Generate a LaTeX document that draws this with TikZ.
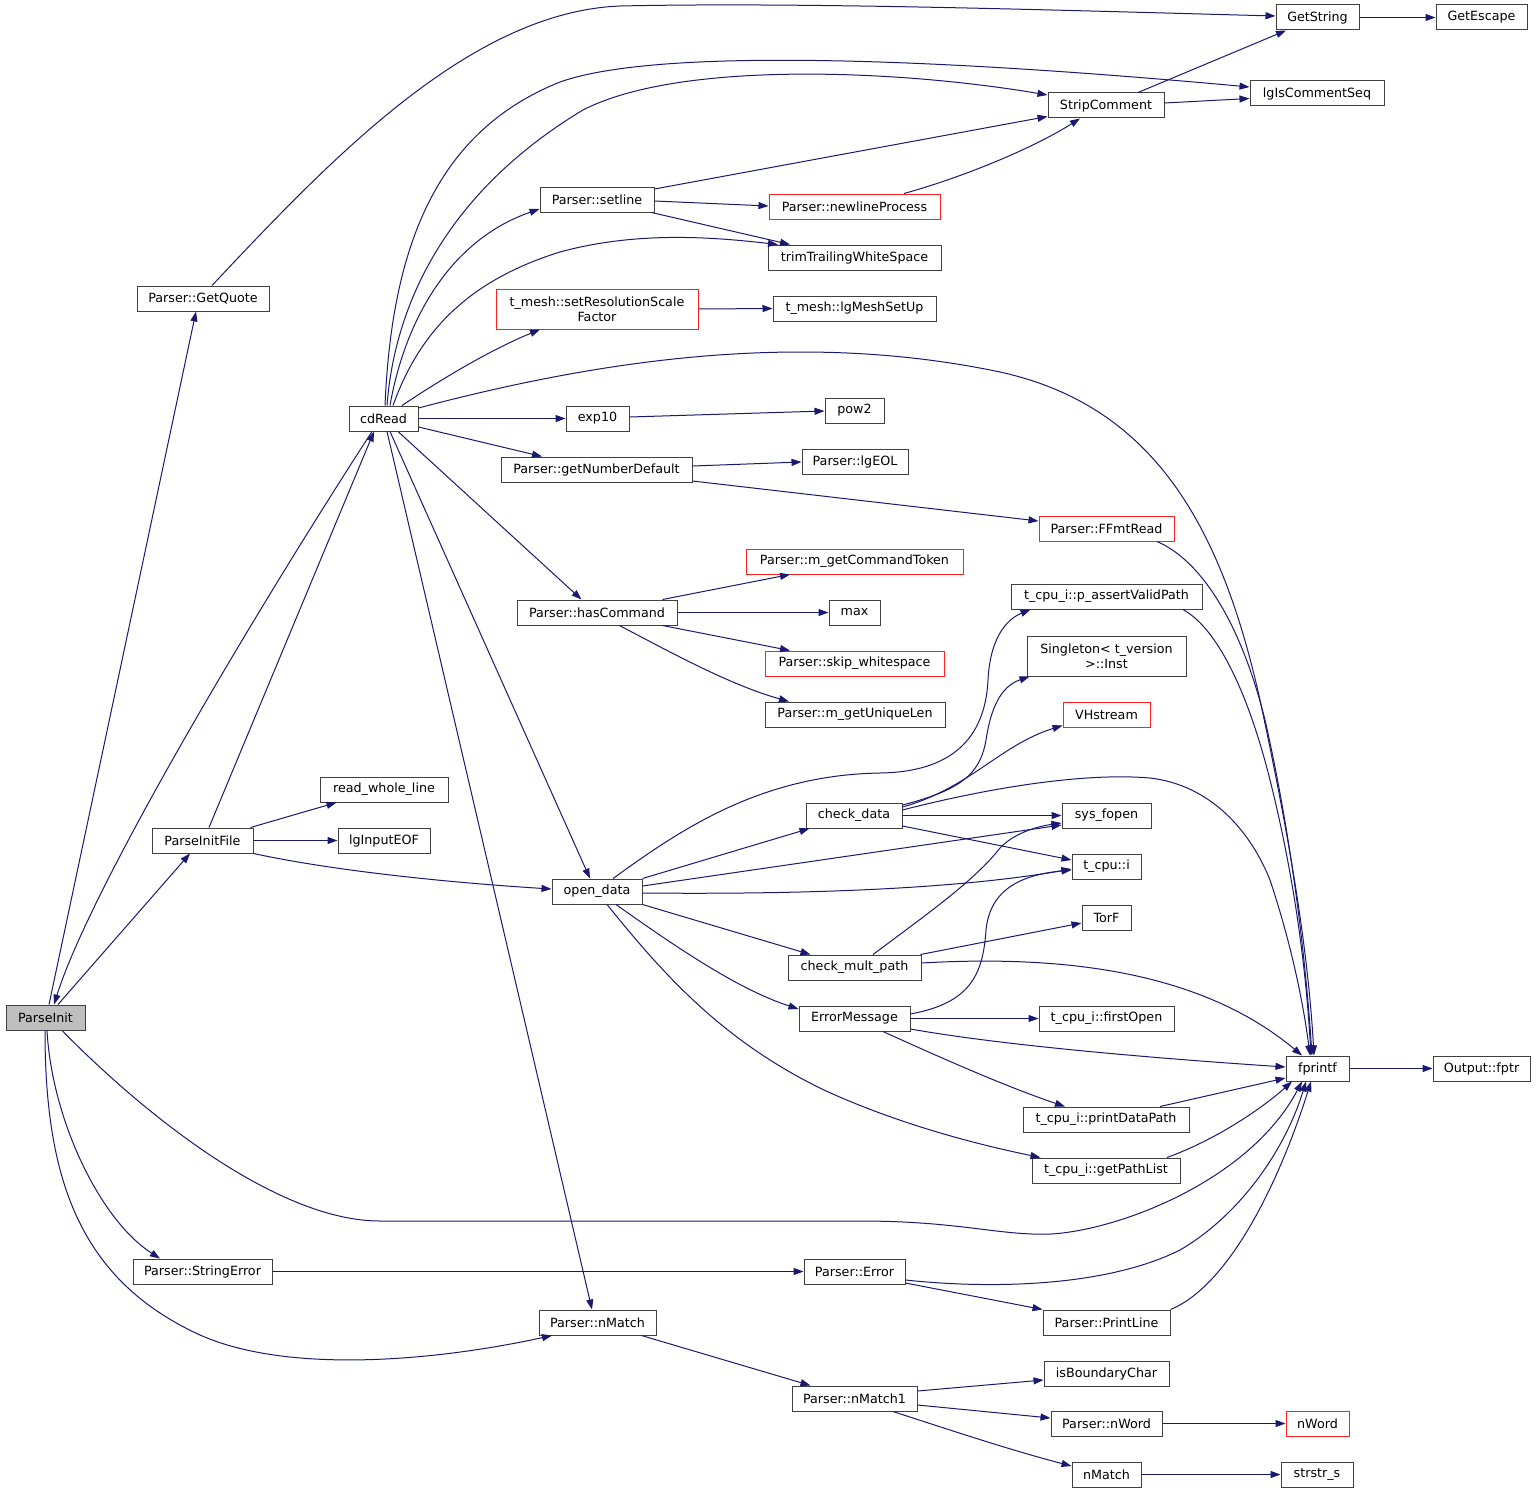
\documentclass[tikz,border=0pt]{standalone}
\usepackage{fontspec}
\newfontfamily\dejavu{DejaVu Sans}
\usetikzlibrary{arrows.meta}
\definecolor{edgecol}{HTML}{191970}
\definecolor{nodeborder}{HTML}{404040}
\definecolor{redborder}{HTML}{FF2020}
\definecolor{rootfill}{HTML}{BFBFBF}
\tikzset{
  fn/.style={draw=nodeborder, fill=white, line width=1pt, inner sep=0pt,
    minimum height=25pt, align=center, font={\dejavu\fontsize{12.7pt}{15pt}\selectfont}},
  redfn/.style={fn, draw=redborder},
  rootfn/.style={fn, fill=rootfill},
  call/.style={draw=edgecol, line width=1pt, -{Triangle[length=10pt,width=7pt]}},
}
\begin{document}
\begin{tikzpicture}[x=1pt,y=-1pt]
\fill[white] (0,0) rectangle (1536,1493);
\useasboundingbox (0,0) rectangle (1536,1493);
% nodes
\node[rootfn, minimum width=79pt] (ParseInit) at (45.5,1017.5) {ParseInit};
\node[fn, minimum width=132pt] (GetQuote) at (203,298.5) {Parser::GetQuote};
\node[fn, minimum width=69pt] (cdRead) at (383.5,418.5) {cdRead};
\node[fn, minimum width=101pt] (PIF) at (202.5,840.5) {ParseInitFile};
\node[fn, minimum width=139pt] (StrErr) at (202.5,1271.5) {Parser::StringError};
\node[fn, minimum width=83pt] (GetString) at (1317.5,17.5) {GetString};
\node[fn, minimum width=91pt] (GetEscape) at (1481.5,17.5) {GetEscape};
\node[fn, minimum width=134pt] (lgICS) at (1317,93.5) {lgIsCommentSeq};
\node[fn, minimum width=116pt] (Strip) at (1106,105.5) {StripComment};
\node[fn, minimum width=114pt] (setline) at (597,199.5) {Parser::setline};
\node[redfn, minimum width=171pt] (newline) at (854.5,206.5) {Parser::newlineProcess};
\node[fn, minimum width=173pt] (trim) at (854.5,257.5) {trimTrailingWhiteSpace};
\node[redfn, minimum width=202pt, minimum height=40pt] (tmesh) at (597,309) {t\_mesh::setResolutionScale\\Factor};
\node[fn, minimum width=163pt] (meshup) at (854.5,308.5) {t\_mesh::lgMeshSetUp};
\node[fn, minimum width=63pt] (exp10) at (597.5,418.5) {exp10};
\node[fn, minimum width=59pt] (pow2) at (854.5,410.5) {pow2};
\node[fn, minimum width=191pt] (getND) at (596.5,469.5) {Parser::getNumberDefault};
\node[fn, minimum width=106pt] (lgEOL) at (855,461.5) {Parser::lgEOL};
\node[redfn, minimum width=135pt] (FFmt) at (1106.5,528.5) {Parser::FFmtRead};
\node[redfn, minimum width=217pt] (cmdTok) at (854.5,561.5) {Parser::m\_getCommandToken};
\node[fn, minimum width=160pt] (hasCmd) at (597,612.5) {Parser::hasCommand};
\node[fn, minimum width=51pt] (max) at (854.5,612.5) {max};
\node[redfn, minimum width=179pt] (skipws) at (854.5,663.5) {Parser::skip\_whitespace};
\node[fn, minimum width=180pt] (uniq) at (855,714.5) {Parser::m\_getUniqueLen};
\node[fn, minimum width=191pt] (pavp) at (1106.5,596.5) {t\_cpu\_i::p\_assertValidPath};
\node[fn, minimum width=159pt, minimum height=40pt] (single) at (1106.5,656) {Singleton< t\_version\\>::Inst};
\node[redfn, minimum width=87pt] (vh) at (1106.5,714.5) {VHstream};
\node[fn, minimum width=128pt] (rwl) at (384,789.5) {read\_whole\_line};
\node[fn, minimum width=92pt] (lgEOF) at (384,840.5) {lgInputEOF};
\node[fn, minimum width=96pt] (chkd) at (854,815.5) {check\_data};
\node[fn, minimum width=89pt] (sysf) at (1106.5,815.5) {sys\_fopen};
\node[fn, minimum width=69pt] (tcpui) at (1106.5,866.5) {t\_cpu::i};
\node[fn, minimum width=90pt] (opend) at (597,891.5) {open\_data};
\node[fn, minimum width=49pt] (torf) at (1106.5,917.5) {TorF};
\node[fn, minimum width=133pt] (cmp) at (854.5,967.5) {check\_mult\_path};
\node[fn, minimum width=111pt] (errm) at (854.5,1018.5) {ErrorMessage};
\node[fn, minimum width=135pt] (fopen) at (1106.5,1018.5) {t\_cpu\_i::firstOpen};
\node[fn, minimum width=63pt] (fprintf) at (1317.5,1068.5) {fprintf};
\node[fn, minimum width=97pt] (fptr) at (1481.5,1068.5) {Output::fptr};
\node[fn, minimum width=166pt] (pdp) at (1106,1119.5) {t\_cpu\_i::printDataPath};
\node[fn, minimum width=148pt] (gpl) at (1106,1170.5) {t\_cpu\_i::getPathList};
\node[fn, minimum width=101pt] (perr) at (854.5,1271.5) {Parser::Error};
\node[fn, minimum width=117pt] (pnm) at (597.5,1322.5) {Parser::nMatch};
\node[fn, minimum width=127pt] (prl) at (1106.5,1322.5) {Parser::PrintLine};
\node[fn, minimum width=125pt] (ibc) at (1106.5,1373.5) {isBoundaryChar};
\node[fn, minimum width=125pt] (nm1) at (854.5,1398.5) {Parser::nMatch1};
\node[fn, minimum width=111pt] (pnw) at (1106.5,1423.5) {Parser::nWord};
\node[redfn, minimum width=63pt] (nword) at (1317.5,1423.5) {nWord};
\node[fn, minimum width=69pt] (nmatch) at (1106.5,1474.5) {nMatch};
\node[fn, minimum width=72pt] (strs) at (1317,1474.5) {strstr\_s};
% edges
\draw[call] ([xshift=3.5pt]ParseInit.north) -- ([xshift=-7pt]GetQuote.south);
\draw[call] ([xshift=-11.5pt]cdRead.south) .. controls (250,620) and (90,890) .. ([xshift=8.5pt]ParseInit.north);
\draw[call] ([xshift=12.5pt]ParseInit.north) -- ([xshift=-12.5pt]PIF.south);
\draw[call] ([xshift=16.5pt]ParseInit.south) .. controls (150,1120) and (280,1221) .. (380,1221) -- (860,1221) .. controls (960,1221) and (1000,1236) .. (1051,1234) .. controls (1120,1230) and (1250,1180) .. ([xshift=-15.5pt]fprintf.south);
\draw[call] ([xshift=1.5pt]ParseInit.south) .. controls (52,1120) and (100,1220) .. ([xshift=-42.5pt]StrErr.north);
\draw[call] ([xshift=-0.5pt]ParseInit.south) .. controls (45,1180) and (80,1280) .. (200,1335) .. controls (290,1375) and (440,1360) .. ([xshift=-45.5pt]pnm.south);
\draw[call] ([xshift=9pt]GetQuote.north) .. controls (330,160) and (470,12) .. (620,6) .. controls (800,2) and (1050,10) .. ([yshift=1.5pt]GetString.west);
\draw[call] ([xshift=1.5pt]cdRead.north) .. controls (392,240) and (440,130) .. (560,82) .. controls (650,50) and (900,55) .. ([yshift=6.5pt]lgICS.west);
\draw[call] ([xshift=3.5pt]cdRead.north) .. controls (395,300) and (450,190) .. (583,110) .. controls (680,60) and (900,70) .. ([yshift=10.5pt]Strip.west);
\draw[call] ([xshift=6.5pt]cdRead.north) .. controls (405,320) and (450,240) .. ([yshift=-9.5pt]setline.west);
\draw[call] ([xshift=9.5pt]cdRead.north) .. controls (420,330) and (470,280) .. (560,252) .. controls (640,230) and (720,238) .. ([xshift=-76.5pt]trim.north);
\draw[call] ([xshift=18.5pt]cdRead.north) .. controls (440,380) and (490,350) .. ([xshift=-57pt]tmesh.south);
\draw[call] ([yshift=10.5pt]cdRead.east) .. controls (600,360) and (800,330) .. (1000,372) .. controls (1150,405) and (1220,520) .. (1260,700) .. controls (1290,840) and (1308,950) .. ([xshift=-3.5pt]fprintf.north);
\draw[call] (cdRead.east) -- (exp10.west);
\draw[call] ([yshift=-8.5pt]cdRead.east) -- ([xshift=-54.5pt]getND.north);
\draw[call] ([xshift=14.5pt]cdRead.south) -- ([xshift=-15.5pt]hasCmd.north);
\draw[call] ([xshift=6.5pt]cdRead.south) -- ([xshift=-7pt]opend.north);
\draw[call] ([xshift=3.5pt]cdRead.south) -- ([xshift=-5.5pt]pnm.north);
\draw[call] ([xshift=6.5pt]PIF.north) -- ([xshift=-9.5pt]cdRead.south);
\draw[call] ([yshift=10.5pt]setline.east) -- ([yshift=-11pt]Strip.west);
\draw[call] ([yshift=-1.5pt]setline.east) -- ([yshift=0.5pt]newline.west);
\draw[call] ([xshift=-3pt]setline.south east) -- ([xshift=-64.5pt]trim.north);
\draw[call] ([xshift=49.5pt]newline.north) .. controls (960,178) and (1030,150) .. ([xshift=-26pt]Strip.south);
\draw[call] ([xshift=32pt]Strip.north) -- ([xshift=-31.5pt]GetString.south);
\draw[call] ([yshift=2.5pt]Strip.east) -- ([yshift=-5pt]lgICS.west);
\draw[call] (GetString.east) -- (GetEscape.west);
\draw[call] (tmesh.east) -- (meshup.west);
\draw[call] ([yshift=1.5pt]exp10.east) -- ([yshift=-0.5pt]pow2.west);
\draw[call] ([yshift=3.5pt]getND.east) -- ([yshift=-0.5pt]lgEOL.west);
\draw[call] ([yshift=-11.5pt]getND.east) -- ([yshift=7.5pt]FFmt.west);
\draw[call] ([xshift=50.5pt]FFmt.south) .. controls (1200,560) and (1240,620) .. (1265,720) .. controls (1290,830) and (1305,950) .. ([xshift=-5.5pt]fprintf.north);
\draw[call] ([xshift=65.5pt]hasCmd.north) -- ([xshift=-64.5pt]cmdTok.south);
\draw[call] (hasCmd.east) -- (max.west);
\draw[call] ([xshift=65.5pt]hasCmd.south) -- ([xshift=-64.5pt]skipws.north);
\draw[call] ([xshift=22.5pt]hasCmd.south) .. controls (670,652) and (730,685) .. ([xshift=-66pt]uniq.north);
\draw[call] ([xshift=76.5pt]pavp.south) .. controls (1220,630) and (1250,700) .. (1270,780) .. controls (1295,880) and (1306,970) .. ([xshift=-6.5pt]fprintf.north);
\draw[call] ([yshift=5.5pt]chkd.east) .. controls (980,790) and (1080,772) .. (1150,778) .. controls (1210,785) and (1250,830) .. (1270,880) .. controls (1290,940) and (1303,1000) .. ([xshift=-7.5pt]fprintf.north);
\draw[call] ([yshift=10.5pt]chkd.east) .. controls (960,790) and (980,775) .. (986,740) .. controls (992,700) and (1005,685) .. ([xshift=3pt]single.south west);
\draw[call] ([yshift=8.5pt]chkd.east) .. controls (970,788) and (1000,745) .. ([yshift=-11pt]vh.west);
\draw[call] (chkd.east) -- (sysf.west);
\draw[call] ([yshift=-10.5pt]chkd.east) -- ([yshift=6.5pt]tcpui.west);
\draw[call] ([xshift=16pt]opend.north) .. controls (680,830) and (760,775) .. (880,773) .. controls (950,772) and (985,740) .. (988,680) .. controls (990,640) and (1005,620) .. ([xshift=20pt]pavp.south west);
\draw[call] (opend.north east) -- ([xshift=4pt]chkd.south west);
\draw[call] ([yshift=5.5pt]opend.east) -- ([yshift=-9.5pt]sysf.west);
\draw[call] ([yshift=-1.5pt]opend.east) .. controls (850,895) and (980,885) .. ([yshift=-2.5pt]tcpui.west);
\draw[call] (opend.south east) -- ([xshift=23pt]cmp.north west);
\draw[call] ([xshift=19pt]opend.south) .. controls (680,950) and (740,990) .. ([yshift=9.5pt]errm.west);
\draw[call] ([xshift=10pt]opend.south) .. controls (660,970) and (720,1040) .. (824,1090) .. controls (900,1125) and (980,1145) .. ([xshift=9pt]gpl.north west);
\draw[call] ([xshift=18.5pt]cmp.north) .. controls (930,912) and (975,880) .. (1000,848) .. controls (1015,832) and (1040,826) .. ([yshift=-7.5pt]sysf.west);
\draw[call] ([xshift=-1pt]cmp.north east) -- ([yshift=-5.5pt]torf.west);
\draw[call] ([yshift=4.5pt]cmp.east) .. controls (1060,955) and (1200,970) .. ([xshift=-15.5pt]fprintf.north);
\draw[call] ([yshift=4.5pt]errm.east) .. controls (970,1003) and (983,975) .. (986,930) .. controls (990,890) and (1020,875) .. ([yshift=-3.5pt]tcpui.west);
\draw[call] (errm.east) -- (fopen.west);
\draw[call] ([yshift=-10.5pt]errm.east) .. controls (1000,1045) and (1150,1058) .. ([yshift=1.5pt]fprintf.west);
\draw[call] ([xshift=28.5pt]errm.south) .. controls (950,1062) and (1010,1088) .. ([xshift=-41pt]pdp.north);
\draw[call] ([xshift=54pt]pdp.north) -- ([yshift=-9.5pt]fprintf.west);
\draw[call] ([xshift=61pt]gpl.north) .. controls (1215,1140) and (1260,1110) .. ([xshift=-25.5pt]fprintf.south);
\draw[call] (StrErr.east) -- (perr.west);
\draw[call] ([yshift=-8.5pt]perr.east) .. controls (1000,1290) and (1110,1285) .. (1180,1250) .. controls (1240,1215) and (1285,1150) .. ([xshift=-11.5pt]fprintf.south);
\draw[call] ([yshift=-11.5pt]perr.east) -- (prl.north west);
\draw[call] (prl.north east) .. controls (1230,1285) and (1280,1180) .. ([xshift=-6.5pt]fprintf.south);
\draw[call] (fprintf.east) -- (fptr.west);
\draw[call] ([xshift=-3pt]PIF.north east) -- ([xshift=17pt]rwl.south west);
\draw[call] (PIF.east) -- (lgEOF.west);
\draw[call] (PIF.south east) .. controls (330,870) and (440,882) .. ([yshift=2.5pt]opend.west);
\draw[call] ([xshift=-15pt]pnm.south east) -- ([xshift=19pt]nm1.north west);
\draw[call] ([yshift=7.5pt]nm1.east) -- ([yshift=-6.5pt]ibc.west);
\draw[call] ([yshift=-6.5pt]nm1.east) -- ([yshift=5.5pt]pnw.west);
\draw[call] ([xshift=38.5pt]nm1.south) .. controls (950,1430) and (1010,1450) .. ([yshift=8.5pt]nmatch.west);
\draw[call] (pnw.east) -- (nword.west);
\draw[call] (nmatch.east) -- (strs.west);
\end{tikzpicture}
\end{document}
